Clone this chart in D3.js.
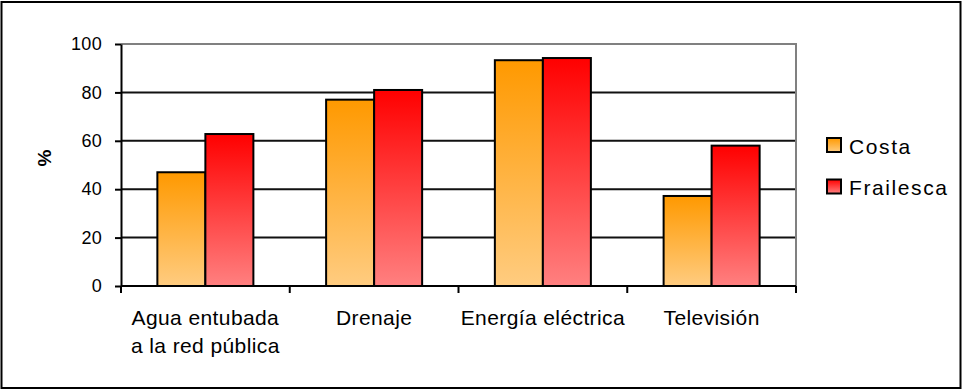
<!DOCTYPE html>
<html>
<head>
<meta charset="utf-8">
<script src="https://cdn.jsdelivr.net/npm/d3@7"></script>
<style>
  html, body { margin: 0; padding: 0; background: #fff; }
  svg { display: block; font-family: "Liberation Sans", Arial, sans-serif; }
</style>
</head>
<body>
<svg id="chart" width="963" height="390"></svg>
<script>
// Categories (two-line labels) and the two series, in percent
const categories = ["Agua entubada|a la red pública", "Drenaje", "Energía eléctrica", "Televisión"];
const seriesNames = ["Costa", "Frailesca"];
const costa = [47, 77, 93.3, 37.2];
const frailesca = [62.8, 81, 94.2, 58];
const yTicks = [0, 20, 40, 60, 80, 100];

const svg = d3.select("#chart");
const plot = { left: 121, right: 796, top: 44, bottom: 286 };

// Gradients: dark at the top, light at the base
const defs = svg.append("defs");
const gradStops = {
  Costa: ["#ff9900", "#ffcc80"],
  Frailesca: ["#ff0000", "#ff8080"]
};
seriesNames.forEach(name => {
  const g = defs.append("linearGradient")
    .attr("id", "grad-" + name)
    .attr("x1", 0).attr("y1", 0).attr("x2", 0).attr("y2", 1);
  g.append("stop").attr("offset", "0%").attr("stop-color", gradStops[name][0]);
  g.append("stop").attr("offset", "100%").attr("stop-color", gradStops[name][1]);
});

// Outer frame
svg.append("rect")
  .attr("x", 1.5).attr("y", 2).attr("width", 959).attr("height", 386)
  .attr("fill", "#fff").attr("stroke", "#000").attr("stroke-width", 2);

const x = d3.scaleBand().domain(categories).range([plot.left, plot.right]).padding(0);
const groupWidth = x.bandwidth() * 0.569;
const xs = d3.scaleBand().domain(seriesNames).range([0, groupWidth]).padding(0);
const y = d3.scaleLinear().domain([0, 100]).range([plot.bottom, plot.top]);

// Horizontal gridlines
svg.append("g").selectAll("line")
  .data(yTicks.filter(t => t > 0 && t < 100))
  .join("line")
  .attr("x1", plot.left).attr("x2", plot.right)
  .attr("y1", d => y(d)).attr("y2", d => y(d))
  .attr("stroke", "#111").attr("stroke-width", 2);

// Top and right borders of the plot area (grey)
svg.append("path")
  .attr("d", `M${plot.left},${y(100)}H${plot.right}V${plot.bottom + 6}`)
  .attr("fill", "none").attr("stroke", "#808080").attr("stroke-width", 2);

// Bars
const rows = categories.map((c, i) => ({ cat: c, vals: [costa[i], frailesca[i]] }));
const groups = svg.append("g").selectAll("g")
  .data(rows)
  .join("g")
  .attr("transform", d => `translate(${x(d.cat) + (x.bandwidth() - groupWidth) / 2},0)`);
groups.selectAll("rect")
  .data(d => d.vals.map((v, j) => ({ name: seriesNames[j], v })))
  .join("rect")
  .attr("x", d => xs(d.name))
  .attr("y", d => y(d.v))
  .attr("width", xs.bandwidth())
  .attr("height", d => y(0) - y(d.v))
  .attr("fill", d => `url(#grad-${d.name})`)
  .attr("stroke", "#000").attr("stroke-width", 2);

// Y axis
const yAxis = d3.axisLeft(y).tickValues(yTicks).tickSize(6).tickPadding(13).tickSizeOuter(0);
const gy = svg.append("g").attr("transform", `translate(${plot.left},0)`).call(yAxis);
gy.select(".domain").attr("stroke", "#000").attr("stroke-width", 2);
gy.selectAll(".tick line").attr("stroke", "#000").attr("stroke-width", 2);
gy.selectAll(".tick text")
  .attr("font-size", 18).attr("fill", "#000")
  .attr("font-family", "Liberation Sans, Arial, sans-serif")
  .style("letter-spacing", "0.3px");

// X axis (ticks at band boundaries)
const bounds = categories.map(c => x(c)).concat([plot.right]);
svg.append("line")
  .attr("x1", plot.left).attr("x2", plot.right)
  .attr("y1", y(0)).attr("y2", y(0))
  .attr("stroke", "#000").attr("stroke-width", 2);
svg.append("g").selectAll("line")
  .data(bounds)
  .join("line")
  .attr("x1", d => d).attr("x2", d => d)
  .attr("y1", y(0)).attr("y2", y(0) + 7)
  .attr("stroke", "#000").attr("stroke-width", 2);

// Category labels
const lab = svg.append("g").selectAll("text")
  .data(categories)
  .join("text")
  .attr("x", d => x(d) + x.bandwidth() / 2)
  .attr("y", 325)
  .attr("text-anchor", "middle")
  .attr("font-size", 21)
  .style("letter-spacing", "0.4px")
  .attr("fill", "#000");
lab.each(function(d) {
  const parts = d.split("|");
  d3.select(this).selectAll("tspan")
    .data(parts)
    .join("tspan")
    .attr("x", x(d) + x.bandwidth() / 2)
    .attr("dy", (p, i) => i === 0 ? 0 : 28)
    .text(p => p);
});

// Y axis title
svg.append("text")
  .attr("transform", "translate(51,158) rotate(-90)")
  .attr("text-anchor", "middle")
  .attr("font-size", 19).attr("font-weight", "bold")
  .text("%");

// Legend
const legend = svg.append("g").selectAll("g")
  .data(seriesNames)
  .join("g")
  .attr("transform", (d, i) => `translate(827,${138 + i * 41.5})`);
legend.append("rect")
  .attr("width", 14).attr("height", 14)
  .attr("fill", d => `url(#grad-${d})`)
  .attr("stroke", "#000").attr("stroke-width", 2);
legend.append("text")
  .attr("x", 22).attr("y", 15.5)
  .attr("font-size", 21)
  .style("letter-spacing", "1.6px")
  .text(d => d);
</script>
</body>
</html>
